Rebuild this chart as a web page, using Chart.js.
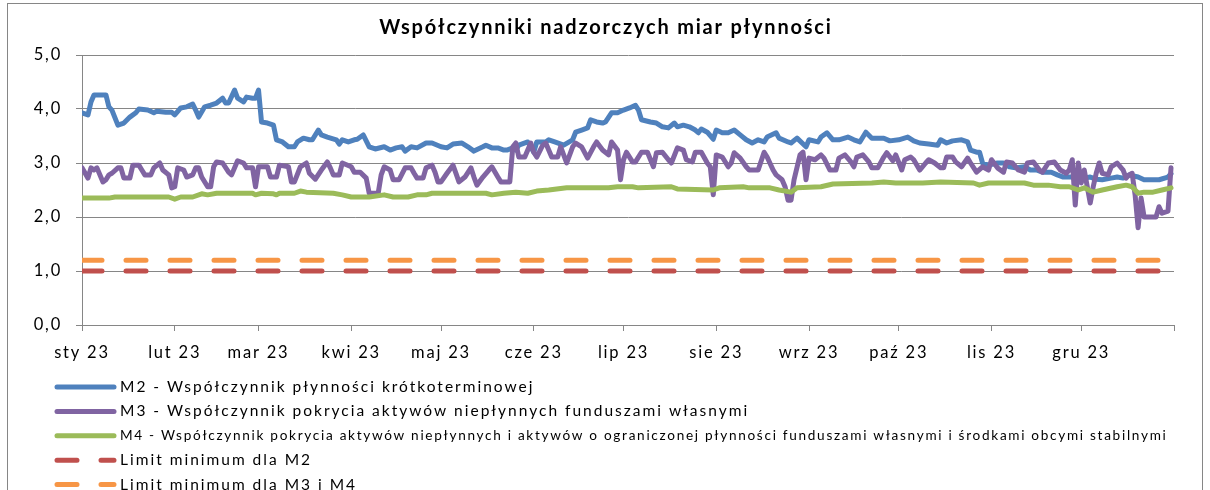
<!DOCTYPE html>
<html>
<head>
<meta charset="utf-8">
<script src="https://cdn.jsdelivr.net/npm/chart.js@4"></script>
<style>
  body { margin: 0; background: #fff; overflow: hidden; }
  canvas { display: block; }
</style>
</head>
<body>
<canvas id="plynnosc" width="1210" height="500"></canvas>
<script>
// dni liczone od 1 stycznia 2023 (0 = 1 sty)
const monthDays = [0, 31, 59, 90, 120, 151, 181, 212, 243, 273, 304, 334, 365];
const monthLabels = ['sty 23','lut 23','mar 23','kwi 23','maj 23','cze 23','lip 23','sie 23','wrz 23','paź 23','lis 23','gru 23'];
const yTicks = [0, 1, 2, 3, 4, 5];
const chartTitle = 'Współczynniki nadzorczych miar płynności';

const m2Days = [0,2,3,4,8,9,10,12,14,16,18,19,22,24,25,28,30,31,33,35,37,38,39,41,43,45,47,48,49,51,52,54,55,57,58,59,60,62,64,65,67,69,71,72,74,76,77,79,80,82,85,86,87,89,91,92,94,96,98,101,103,105,107,108,110,112,115,117,120,122,124,127,129,131,134,135,137,139,141,142,144,145,146,149,150,151,152,155,156,158,161,164,165,167,169,170,172,174,175,177,179,181,183,185,186,187,190,192,194,196,198,199,201,203,205,206,207,209,211,212,214,216,218,220,222,224,226,228,229,232,233,236,237,239,242,243,246,247,249,251,253,256,258,260,262,264,268,270,273,276,278,280,283,286,287,289,291,294,296,297,299,300,301,303,306,308,310,312,315,317,319,321,324,326,328,330,333,335,337,339,341,344,346,348,350,353,355,360,363,364];
const m2Vals = [3.93,3.89,4.13,4.26,4.26,4.04,3.98,3.70,3.74,3.85,3.93,4.00,3.98,3.93,3.96,3.94,3.94,3.89,4.02,4.04,4.09,3.98,3.85,4.04,4.07,4.11,4.20,4.11,4.11,4.35,4.20,4.13,4.22,4.20,4.20,4.35,3.76,3.74,3.70,3.43,3.39,3.30,3.30,3.39,3.46,3.43,3.43,3.61,3.52,3.48,3.43,3.35,3.43,3.39,3.43,3.44,3.52,3.30,3.26,3.30,3.24,3.28,3.30,3.22,3.30,3.28,3.37,3.37,3.30,3.28,3.35,3.37,3.30,3.22,3.30,3.33,3.28,3.28,3.24,3.24,3.28,3.24,3.33,3.39,3.30,3.20,3.39,3.39,3.43,3.39,3.33,3.43,3.57,3.61,3.65,3.80,3.76,3.74,3.76,3.93,3.93,3.98,4.02,4.07,3.98,3.80,3.76,3.74,3.67,3.65,3.74,3.67,3.70,3.67,3.61,3.56,3.63,3.57,3.44,3.61,3.56,3.56,3.61,3.52,3.43,3.37,3.43,3.39,3.48,3.56,3.46,3.39,3.37,3.46,3.30,3.43,3.39,3.48,3.56,3.43,3.43,3.48,3.43,3.39,3.57,3.46,3.46,3.41,3.43,3.48,3.41,3.37,3.35,3.33,3.43,3.37,3.41,3.43,3.39,3.24,3.20,3.20,3.00,2.96,3.00,3.00,2.93,2.91,2.93,2.87,2.87,2.83,2.83,2.78,2.74,2.74,2.74,2.72,2.74,2.70,2.69,2.72,2.74,2.72,2.78,2.74,2.69,2.69,2.74,2.80];

const m3Days = [0,2,3,4,5,7,8,9,10,12,13,14,16,17,19,20,21,23,24,26,27,29,30,31,32,34,35,37,38,39,40,42,43,44,45,47,49,50,52,54,55,57,58,59,62,63,65,66,69,70,71,73,75,76,78,80,82,83,84,86,87,90,91,93,95,96,97,99,100,101,103,104,106,108,110,111,112,114,115,117,118,119,120,122,124,125,126,128,130,131,132,134,136,137,139,140,142,143,144,145,146,148,150,151,152,154,155,157,159,160,162,164,165,167,169,171,172,174,176,177,179,180,181,182,184,185,187,189,191,192,194,196,197,199,201,202,204,205,207,209,210,211,212,214,216,217,218,220,222,223,226,228,229,231,232,234,235,236,237,238,240,241,242,243,245,247,248,250,252,253,255,257,258,259,261,263,264,266,268,269,271,272,274,275,277,278,280,282,283,285,287,288,289,291,292,294,296,297,299,301,303,304,306,308,309,311,313,315,316,318,320,321,323,325,327,329,330,331,332,333,334,335,337,338,339,340,341,343,344,346,348,349,350,351,352,353,354,355,357,359,360,361,362,363,364];
const m3Vals = [2.91,2.72,2.91,2.87,2.91,2.65,2.69,2.78,2.81,2.91,2.91,2.72,2.72,2.96,2.96,2.87,2.78,2.78,2.91,3.00,2.87,2.78,2.54,2.56,2.91,2.87,2.74,2.78,2.91,2.91,2.74,2.56,2.56,2.93,3.02,3.00,2.83,2.78,3.04,3.00,2.91,2.91,2.56,2.93,2.93,2.74,2.74,2.96,2.93,2.65,2.65,2.93,3.00,2.81,2.70,2.87,3.02,2.91,2.78,2.78,3.00,2.93,2.83,2.83,2.72,2.44,2.44,2.44,2.78,2.93,2.87,2.69,2.69,2.91,2.91,2.81,2.72,2.72,2.91,2.96,2.83,2.65,2.65,2.81,2.96,2.81,2.65,2.74,2.91,2.74,2.59,2.74,2.87,2.93,2.74,2.65,2.65,2.65,3.30,3.37,3.11,3.11,3.37,3.20,3.11,3.33,3.37,3.11,3.11,3.30,3.00,3.30,3.37,3.30,3.09,3.30,3.39,3.24,3.15,3.39,3.24,2.69,3.06,3.20,3.02,3.02,3.20,3.20,2.93,3.19,3.20,3.06,3.00,3.28,3.24,3.06,3.02,3.20,3.20,3.00,2.93,2.41,3.15,3.11,2.93,3.00,3.19,3.09,2.93,2.87,2.87,3.20,3.11,2.87,2.78,2.69,2.56,2.31,2.31,2.69,3.15,3.20,2.69,3.09,3.06,3.15,3.09,2.87,2.87,3.09,3.15,3.02,2.93,3.11,3.15,3.02,2.91,2.91,3.11,3.19,3.04,3.15,2.87,3.06,3.11,3.06,2.87,3.00,3.06,3.00,2.91,2.91,3.11,3.11,3.02,2.93,3.09,3.00,2.83,2.93,2.87,3.06,2.91,2.83,3.02,3.00,2.87,2.83,3.00,3.02,2.87,2.83,3.00,3.02,2.87,2.81,2.87,3.06,2.22,3.00,2.63,2.87,2.26,2.56,2.81,3.00,2.81,2.78,2.93,3.00,2.87,2.72,2.78,2.81,2.41,1.80,2.35,2.00,2.00,2.00,2.19,2.07,2.09,2.11,2.91];

const m4Days = [0,9,11,29,31,33,37,40,42,45,57,58,60,64,65,66,71,73,75,84,87,90,96,101,104,109,112,115,117,123,135,137,141,145,149,152,156,162,176,179,184,186,197,199,211,213,221,223,230,233,237,239,247,251,264,268,272,281,287,298,300,303,315,318,323,327,330,333,335,338,341,346,349,351,353,355,358,361,364];
const m4Vals = [2.35,2.35,2.37,2.37,2.33,2.37,2.37,2.43,2.41,2.44,2.44,2.41,2.44,2.43,2.41,2.44,2.44,2.48,2.46,2.44,2.41,2.37,2.37,2.41,2.37,2.37,2.41,2.41,2.44,2.44,2.44,2.41,2.44,2.46,2.44,2.48,2.50,2.54,2.54,2.56,2.56,2.54,2.56,2.52,2.50,2.54,2.56,2.54,2.54,2.50,2.46,2.54,2.56,2.61,2.63,2.65,2.63,2.63,2.65,2.63,2.59,2.63,2.63,2.59,2.59,2.56,2.56,2.50,2.54,2.46,2.50,2.56,2.59,2.56,2.44,2.46,2.46,2.50,2.54];

const limitDays = [0, 364];
const limitM2 = [1.0, 1.0];
const limitM3M4 = [1.2, 1.2];

const seriesNames = [
  'M2 - Współczynnik płynności krótkoterminowej',
  'M3 - Współczynnik pokrycia aktywów niepłynnych funduszami własnymi',
  'M4 - Współczynnik pokrycia aktywów niepłynnych i aktywów o ograniczonej płynności funduszami własnymi i środkami obcymi stabilnymi',
  'Limit minimum dla M2',
  'Limit minimum dla M3 i M4'
];

const pts = (days, vals) => days.map((d, i) => ({x: d, y: vals[i]}));
const axisGrey = '#868686';

// ramka wykresu jak w Excelu + szerszy odstęp liter
const frame = {
  id: 'frame',
  beforeDraw(chart) {
    const ctx = chart.ctx;
    ctx.fillStyle = '#fff';
    ctx.fillRect(0, 0, chart.width, chart.height);
    ctx.save();
    ctx.strokeStyle = axisGrey;
    ctx.lineWidth = 1;
    ctx.strokeRect(7.5, 3.5, 1195, 600);
    // tytuł wyśrodkowany na całej szerokości
    ctx.fillStyle = '#000';
    ctx.font = 'bold 20px Lato';
    ctx.letterSpacing = '1.8px';
    ctx.textAlign = 'center';
    ctx.textBaseline = 'middle';
    ctx.fillText(chartTitle, chart.width / 2 + 1, 28);
    ctx.restore();
    ctx.letterSpacing = '1.8px';
  }
};

// legenda w jednej kolumnie pod osią
const columnLegend = {
  id: 'columnLegend',
  afterDraw(chart) {
    const ctx = chart.ctx;
    ctx.save();
    chart.data.datasets.forEach((ds, i) => {
      const y = 387 + i * 24.4;
      ctx.beginPath();
      ctx.strokeStyle = ds.borderColor;
      ctx.lineWidth = 5;
      ctx.lineCap = 'round';
      ctx.setLineDash(ds.borderDash || []);
      ctx.moveTo(57, y);
      ctx.lineTo(114, y);
      ctx.stroke();
      ctx.setLineDash([]);
      ctx.fillStyle = '#000';
      ctx.textBaseline = 'middle';
      ctx.font = (i === 2 ? '13.6px' : '15.5px') + ' Lato';
      ctx.letterSpacing = i === 2 ? '1.7px' : '2px';
      ctx.fillText(ds.label, 120, y);
    });
    ctx.restore();
  }
};

const line = (label, data, color, order, dash) => ({
  label: label,
  data: data,
  borderColor: color,
  backgroundColor: color,
  borderWidth: 5,
  borderDash: dash,
  borderCapStyle: 'round',
  borderJoinStyle: 'round',
  pointRadius: 0,
  tension: 0,
  order: order
});

new Chart(document.getElementById('plynnosc'), {
  type: 'line',
  data: {
    datasets: [
      line(seriesNames[0], pts(m2Days, m2Vals), '#4F81BD', 5),
      line(seriesNames[1], pts(m3Days, m3Vals), '#8064A2', 4),
      line(seriesNames[2], pts(m4Days, m4Vals), '#9BBB59', 3),
      line(seriesNames[3], pts(limitDays, limitM2), '#C0504D', 2, [20, 24]),
      line(seriesNames[4], pts(limitDays, limitM3M4), '#F79646', 1, [20, 24])
    ]
  },
  options: {
    responsive: false,
    animation: false,
    layout: { padding: { left: 0, right: 36, top: 55, bottom: 130 } },
    plugins: {
      legend: { display: false },
      tooltip: { enabled: false },
      title: { display: false }
    },
    scales: {
      x: {
        type: 'linear',
        min: 0,
        max: 365,
        afterBuildTicks: s => { s.ticks = monthDays.map(v => ({value: v})); },
        afterFit: s => { s.height = 45; },
        grid: { drawOnChartArea: false, drawTicks: true, tickLength: 6, color: axisGrey },
        border: { color: axisGrey },
        ticks: {
          autoSkip: false,
          maxRotation: 0,
          padding: 12,
          color: '#000',
          font: { family: 'Lato', size: 16.5 },
          callback: (v, i) => monthLabels[i] || ''
        }
      },
      y: {
        min: 0,
        max: 5,
        afterBuildTicks: s => { s.ticks = yTicks.map(v => ({value: v})); },
        afterFit: s => { s.width = 82; },
        grid: { color: axisGrey, tickLength: 6 },
        border: { color: axisGrey },
        ticks: {
          padding: 14,
          color: '#000',
          font: { family: 'Lato', size: 16.5 },
          callback: v => v.toFixed(1).replace('.', ',')
        }
      }
    }
  },
  plugins: [frame, columnLegend]
});
</script>
</body>
</html>
